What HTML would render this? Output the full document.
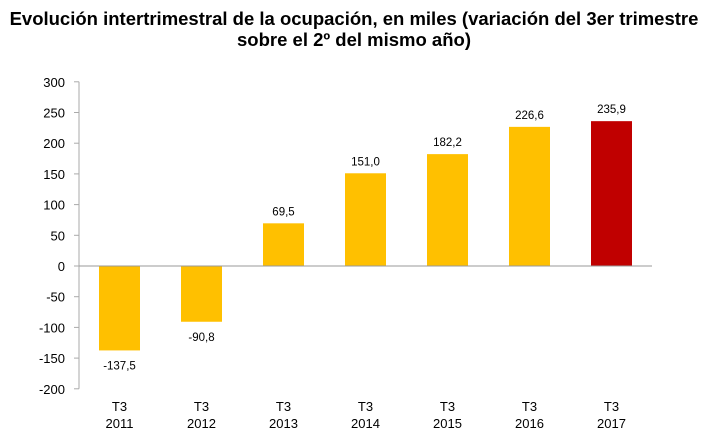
<!DOCTYPE html>
<html><head><meta charset="utf-8"><style>
body{margin:0;background:#fff;width:708px;height:447px;overflow:hidden;font-family:"Liberation Sans",sans-serif}
.t{position:absolute;left:0;width:708px;text-align:center;font-weight:bold;font-size:18.5px;color:#000;line-height:21px;white-space:nowrap}
</style></head><body>
<div class="t" style="top:8px">Evolución intertrimestral de la ocupación, en miles (variación del 3er trimestre<br>sobre el 2º del mismo año)</div>
<svg id="c" width="708" height="447" style="position:absolute;left:0;top:0"></svg>
<script>
const years=["2011","2012","2013","2014","2015","2016","2017"];
const values=[-137.5,-90.8,69.5,151.0,182.2,226.6,235.9];
const labels=["-137,5","-90,8","69,5","151,0","182,2","226,6","235,9"];
const ticks=[300,250,200,150,100,50,0,-50,-100,-150,-200];
const svg=document.getElementById('c');const NS='http://www.w3.org/2000/svg';
const y=v=>266-v*0.614;const x=i=>119.5+i*82;
function mk(t,a){const e=document.createElementNS(NS,t);for(const k in a)e.setAttribute(k,a[k]);svg.appendChild(e);return e;}
let ax=mk('line',{x1:79,x2:79,y1:y(300),y2:y(-200),stroke:'#aaa'});


ticks.forEach(t=>{
 let l=mk('line',{x1:74,x2:79,y1:y(t),y2:y(t),stroke:'#aaa'});
 
 
 let tx=mk('text',{x:65,y:y(t)+5,'text-anchor':'end','font-size':13,fill:'#000'});tx.textContent=t;
 
 
});
values.forEach((v,i)=>{
 let r=mk('rect',{x:x(i)-20.5,width:41,y:Math.min(y(v),y(0)),height:Math.abs(y(v)-y(0)),fill:i==6?'#c00000':'#ffc000'});
 
 
 let ly=v>=0?y(v)-8:y(v)+19;
 let t=mk('text',{x:x(i),y:ly,'text-anchor':'middle','font-size':11.5,fill:'#000'});t.textContent=labels[i];
 
 
 let a=mk('text',{x:x(i),y:411,'text-anchor':'middle','font-size':13,fill:'#000'});a.textContent='T3';
 
 
 let b=mk('text',{x:x(i),y:428,'text-anchor':'middle','font-size':13,fill:'#000'});b.textContent=years[i];
 
 
});
let z=mk('line',{x1:79,x2:652,y1:y(0),y2:y(0),stroke:'#999'});


</script>
</body></html>
